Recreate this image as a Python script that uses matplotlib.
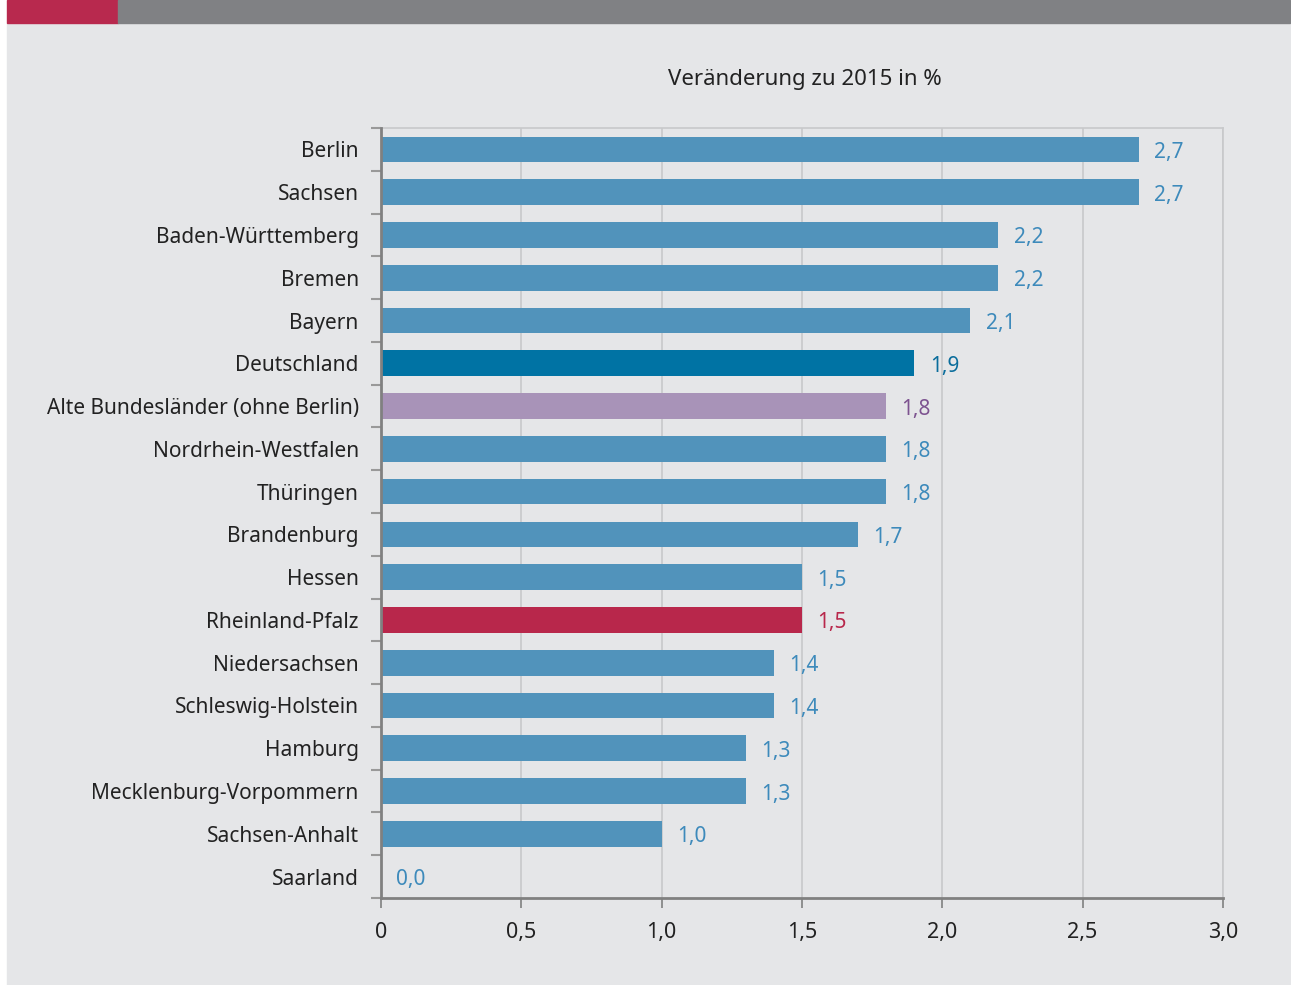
import numpy as np
import matplotlib.pyplot as plt
from matplotlib.patches import Rectangle

plt.rcParams["font.family"] = ["Noto Sans", "DejaVu Sans"]

laender = [
    "Berlin", "Sachsen", "Baden-Württemberg", "Bremen", "Bayern",
    "Deutschland", "Alte Bundesländer (ohne Berlin)", "Nordrhein-Westfalen",
    "Thüringen", "Brandenburg", "Hessen", "Rheinland-Pfalz", "Niedersachsen",
    "Schleswig-Holstein", "Hamburg", "Mecklenburg-Vorpommern",
    "Sachsen-Anhalt", "Saarland",
]
werte = [2.7, 2.7, 2.2, 2.2, 2.1, 1.9, 1.8, 1.8, 1.8, 1.7, 1.5, 1.5,
         1.4, 1.4, 1.3, 1.3, 1.0, 0.0]
x_ticks = [0, 0.5, 1.0, 1.5, 2.0, 2.5, 3.0]
x_labels = ["0", "0,5", "1,0", "1,5", "2,0", "2,5", "3,0"]

# Farben
BLAU = "#5193bb"
bar_farben = {"Deutschland": "#0073a4", "Alte Bundesländer (ohne Berlin)": "#a893b8",
              "Rheinland-Pfalz": "#b8274b"}
text_farben = {"Deutschland": "#0a6d9c", "Alte Bundesländer (ohne Berlin)": "#7d5390",
               "Rheinland-Pfalz": "#b8274b"}
BG = "#e5e6e8"

fig = plt.figure(figsize=(12.91, 9.85), dpi=100)
fig.patch.set_facecolor("white")
W, H = 1291, 985

# Hintergrund-Panel und Kopfleiste
for rect, col in [((7, 0, 1290 - 7, H - 23), BG),
                  ((7, H - 23, 118 - 7, 23), "#b8294e"),
                  ((118, H - 23, 1290 - 118, 23), "#808184")]:
    x0, y0, w, h = rect
    fig.patches.append(Rectangle((x0 / W, y0 / H), w / W, h / H,
                                 transform=fig.transFigure, color=col, zorder=-10))

ax = fig.add_axes([381 / W, 1 - 898 / H, (1223 - 381) / W, (898 - 128) / H])
ax.set_zorder(2)
ax.set_facecolor(BG)

n = len(laender)
y = np.arange(n)
farben = [bar_farben.get(l, BLAU) for l in laender]
ax.barh(y, werte, height=0.6, color=farben, zorder=3)

for yi, l, v in zip(y, laender, werte):
    ax.text(v + 0.055, yi + 0.07, f"{v:.1f}".replace(".", ","), va="center", ha="left",
            fontsize=15, color=text_farben.get(l, "#3d8abb"), zorder=4)

ax.set_ylim(n - 0.5, -0.5)
ax.set_xlim(0, 3.0)

ax.set_xticks(x_ticks)
ax.set_xticklabels(x_labels, fontsize=15.5, color="#222222")
ax.set_yticks(y)
ax.set_yticklabels(laender, fontsize=15, color="#222222")
ax.tick_params(axis="y", length=0, pad=16)
ax.set_yticks(np.arange(n + 1) - 0.5, minor=True)
ax.tick_params(axis="y", which="minor", length=7, color="#999999", width=1.5)
ax.tick_params(axis="x", length=7, color="#808080", width=1.2, pad=10)

ax.grid(axis="x", color="#c8c9cb", linewidth=1.2, zorder=1)
ax.set_axisbelow(True)
for s in ["top", "right"]:
    ax.spines[s].set_color("#c8c9cb")
    ax.spines[s].set_linewidth(1.2)
for s in ["left", "bottom"]:
    ax.spines[s].set_color("#808080")
    ax.spines[s].set_linewidth(2)
    ax.spines[s].set_zorder(5)

fig.text(805 / W, 1 - 80 / H, "Veränderung zu 2015 in %", ha="center", va="center",
         fontsize=16, color="#222222")

fig.savefig("out.png", dpi=100, facecolor=fig.get_facecolor())
